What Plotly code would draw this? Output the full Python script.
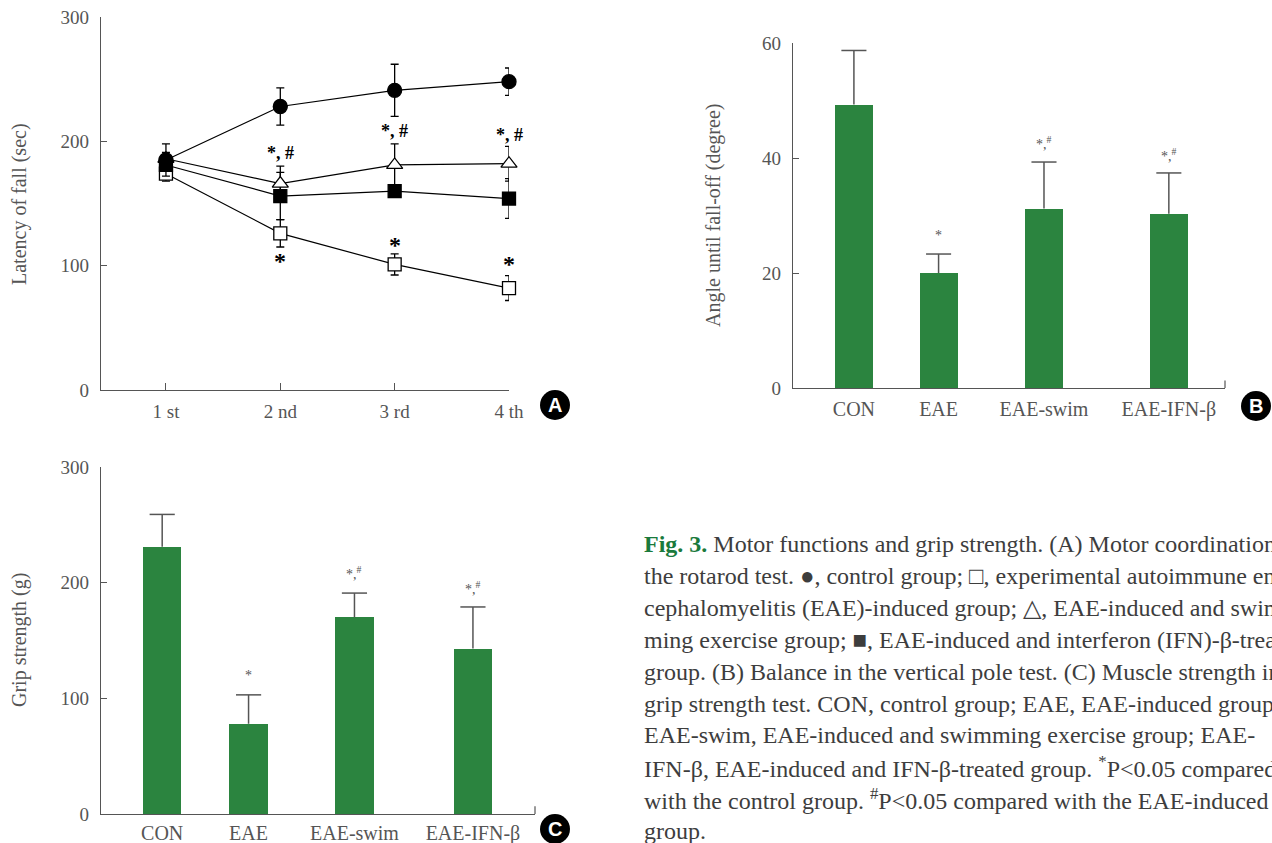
import plotly.graph_objects as go

W, H = 1272, 843

# ---------------- data ----------------
sessions = ["1 st", "2 nd", "3 rd", "4 th"]
session_idx = [1, 2, 3, 4]

con_lat = [185, 228, 241, 248]
con_err = [13, 15, 21, 11]
eae_lat = [174, 126, 101, 82]
eae_err = [6, 11, 8.5, 10]
swim_lat = [186, 166, 181, 182]
swim_err = [5, 14, 17, 14]
ifn_lat = [181, 156, 160, 154]
ifn_err = [5, 19, 5, 16]

groups = ["CON", "EAE", "EAE-swim", "EAE-IFN-β"]
angle_vals = [49.3, 20.0, 31.2, 30.3]
angle_err = [9.4, 3.3, 8.1, 7.1]
grip_vals = [231, 78, 170, 143]
grip_err = [28, 25, 21, 36]

sigA_text = ["*, #", "*, #", "*, #", "*", "*", "*"]
sigA_x = [2, 3, 4, 2, 3, 4]
sigA_y = [191, 208, 205, 104, 117, 101]

sig_bar_text = ["*", "*,<sup>#</sup>", "*,<sup>#</sup>"]
sig_bar_idx = [1, 2, 3]
sigB_y = [26.5, 42.6, 40.5]
sigC_y = [120, 208, 195]

caption_lines = [
    "<b><span style='color:#1a7a3c'>Fig. 3.</span></b> Motor functions and grip strength. (A) Motor coordination in",
    "the rotarod test. ●, control group; □, experimental autoimmune en-",
    "cephalomyelitis (EAE)-induced group; △, EAE-induced and swim-",
    "ming exercise group; ■, EAE-induced and interferon (IFN)-β-treated",
    "group. (B) Balance in the vertical pole test. (C) Muscle strength in the",
    "grip strength test. CON, control group; EAE, EAE-induced group;",
    "EAE-swim, EAE-induced and swimming exercise group; EAE-",
    "IFN-β, EAE-induced and IFN-β-treated group. <sup>*</sup>P<0.05 compared",
    "with the control group. <sup>#</sup>P<0.05 compared with the EAE-induced",
    "group.",
]

# ---------------- layout params ----------------
bar_slots_B = [0.141, 0.337, 0.581, 0.870]
bar_slots_C = [0.141, 0.340, 0.584, 0.857]
bar_width = 0.088
cap_half = 0.029
GREEN = "#2b843f"
AX = "#555555"
FONT = "Liberation Serif"


def px_x(x):
    return x / W


def px_y(y):
    return 1 - y / H


fig = go.Figure()

# ---------------- Panel A ----------------
line_style = dict(color="black", width=1.2)
err_style = dict(type="data", color="black", thickness=1.3, width=4)
series = [
    (eae_lat, eae_err, "square", False, 13),
    (ifn_lat, ifn_err, "square", True, 13),
    (swim_lat, swim_err, "triangle-up", False, 14),
    (con_lat, con_err, "circle", True, 14),
]
for vals, errs, sym, filled, size in series:
    fig.add_trace(go.Scatter(
        x=session_idx, y=vals, mode="lines+markers",
        line=line_style,
        marker=dict(symbol=sym, size=size, color="black" if filled else "white",
                    line=dict(color="black", width=1.3)),
        error_y=dict(array=errs, **err_style),
        xaxis="x", yaxis="y", showlegend=False, cliponaxis=False))


# ---------------- Panels B & C (bars + one-sided error bars) ----------------
def add_bars(slots, vals, errs, xa, ya):
    fig.add_trace(go.Bar(x=slots, y=vals, width=bar_width,
                         marker=dict(color=GREEN, line=dict(width=0)),
                         xaxis=xa, yaxis=ya, showlegend=False))
    ex, ey = [], []
    for p, v, e in zip(slots, vals, errs):
        ex += [p, p, None, p - cap_half, p + cap_half, None]
        ey += [v, v + e, None, v + e, v + e, None]
    fig.add_trace(go.Scatter(x=ex, y=ey, mode="lines", line=dict(color="#555555", width=1.5),
                             xaxis=xa, yaxis=ya, showlegend=False, hoverinfo="skip",
                             cliponaxis=False))


add_bars(bar_slots_B, angle_vals, angle_err, "x2", "y2")
add_bars(bar_slots_C, grip_vals, grip_err, "x3", "y3")

tickfont = dict(family=FONT, size=19, color=AX)
common_y = dict(showline=True, linecolor=AX, linewidth=1.2, ticks="inside",
                ticklen=6, tickcolor=AX, tickwidth=1.2, showgrid=False,
                zeroline=False, tickfont=tickfont, automargin=False,
                ticklabelstandoff=7, ticklabeloverflow="allow")
common_x = dict(showline=True, linecolor=AX, linewidth=1.2, showgrid=False,
                zeroline=False, automargin=False, ticklabeloverflow="allow")

fig.update_layout(
    width=W, height=H,
    margin=dict(l=0, r=0, t=0, b=0, pad=0, autoexpand=False),
    paper_bgcolor="white", plot_bgcolor="white",
    bargap=0,
    xaxis=dict(domain=[px_x(101), px_x(509)], range=[0.432, 4.0],
               tickvals=session_idx, ticktext=sessions, ticks="inside",
               ticklen=7, tickcolor=AX, tickwidth=1.2, anchor="y",
               tickfont=tickfont, ticklabelstandoff=4, **common_x),
    yaxis=dict(domain=[px_y(390), px_y(17)], range=[0, 300],
               tickvals=[0, 100, 200, 300], anchor="x", **common_y),
    xaxis2=dict(domain=[px_x(793), px_x(1225)], range=[0, 1],
                tickvals=bar_slots_B, ticktext=groups, ticks="", anchor="y2",
                tickfont=dict(family=FONT, size=20, color=AX), ticklabelstandoff=3, **common_x),
    yaxis2=dict(domain=[px_y(388), px_y(43)], range=[0, 60],
                tickvals=[0, 20, 40, 60], anchor="x2", **common_y),
    xaxis3=dict(domain=[px_x(101), px_x(535)], range=[0, 1],
                tickvals=bar_slots_C, ticktext=groups, ticks="", anchor="y3",
                tickfont=dict(family=FONT, size=20, color=AX), ticklabelstandoff=1, **common_x),
    yaxis3=dict(domain=[px_y(814), px_y(467)], range=[0, 300],
                tickvals=[0, 100, 200, 300], anchor="x3", **common_y),
)

ann = []
# significance marks
for t, x, y in zip(sigA_text, sigA_x, sigA_y):
    ann.append(dict(x=x, y=y, xref="x", yref="y", text=f"<b>{t}</b>", showarrow=False,
                    font=dict(family=FONT, size=24 if t == "*" else 18, color="black")))
for t, i, y in zip(sig_bar_text, sig_bar_idx, sigB_y):
    ann.append(dict(x=bar_slots_B[i], y=y, xref="x2", yref="y2", text=t, showarrow=False,
                    font=dict(family=FONT, size=14, color="#555555")))
for t, i, y in zip(sig_bar_text, sig_bar_idx, sigC_y):
    ann.append(dict(x=bar_slots_C[i], y=y, xref="x3", yref="y3", text=t, showarrow=False,
                    font=dict(family=FONT, size=14, color="#555555")))

# axis titles
title_font = dict(family=FONT, size=20, color=AX)
for text, tx, ty in [("Latency of fall (sec)", 19, 204),
                     ("Angle until fall-off (degree)", 713, 216),
                     ("Grip strength (g)", 19, 640)]:
    ann.append(dict(x=px_x(tx), y=px_y(ty), xref="paper", yref="paper", text=text,
                    textangle=-90, showarrow=False, xanchor="center", yanchor="middle",
                    font=title_font))

# caption
for k, line in enumerate(caption_lines):
    ann.append(dict(x=px_x(642), y=px_y(544 + 31.9 * k), xref="paper", yref="paper",
                    xanchor="left", yanchor="middle", text=line, showarrow=False,
                    font=dict(family=FONT, size=24, color="#3d3d3d")))

# panel letters
shapes = []
for letter, cx, cy in [("A", 555, 405), ("B", 1256, 406), ("C", 555, 829)]:
    r = 15
    shapes.append(dict(type="circle", xref="paper", yref="paper",
                       x0=px_x(cx - r), x1=px_x(cx + r), y0=px_y(cy + r), y1=px_y(cy - r),
                       fillcolor="black", line=dict(color="black", width=0)))
    ann.append(dict(x=px_x(cx), y=px_y(cy), xref="paper", yref="paper", text=f"<b>{letter}</b>",
                    showarrow=False, xanchor="center", yanchor="middle",
                    font=dict(family="Liberation Sans", size=20, color="white")))

# end ticks on bar-chart x axes
for xr, yr in [("x2 domain", "y2 domain"), ("x3 domain", "y3 domain")]:
    shapes.append(dict(type="line", xref=xr, yref=yr, x0=1, x1=1, y0=0, y1=0.022,
                       line=dict(color=AX, width=1.2)))

fig.update_layout(annotations=ann, shapes=shapes)
fig.write_html("out.html",
               config={"displayModeBar": False},
               post_script="document.body.style.margin='0';document.body.style.overflow='hidden';")
